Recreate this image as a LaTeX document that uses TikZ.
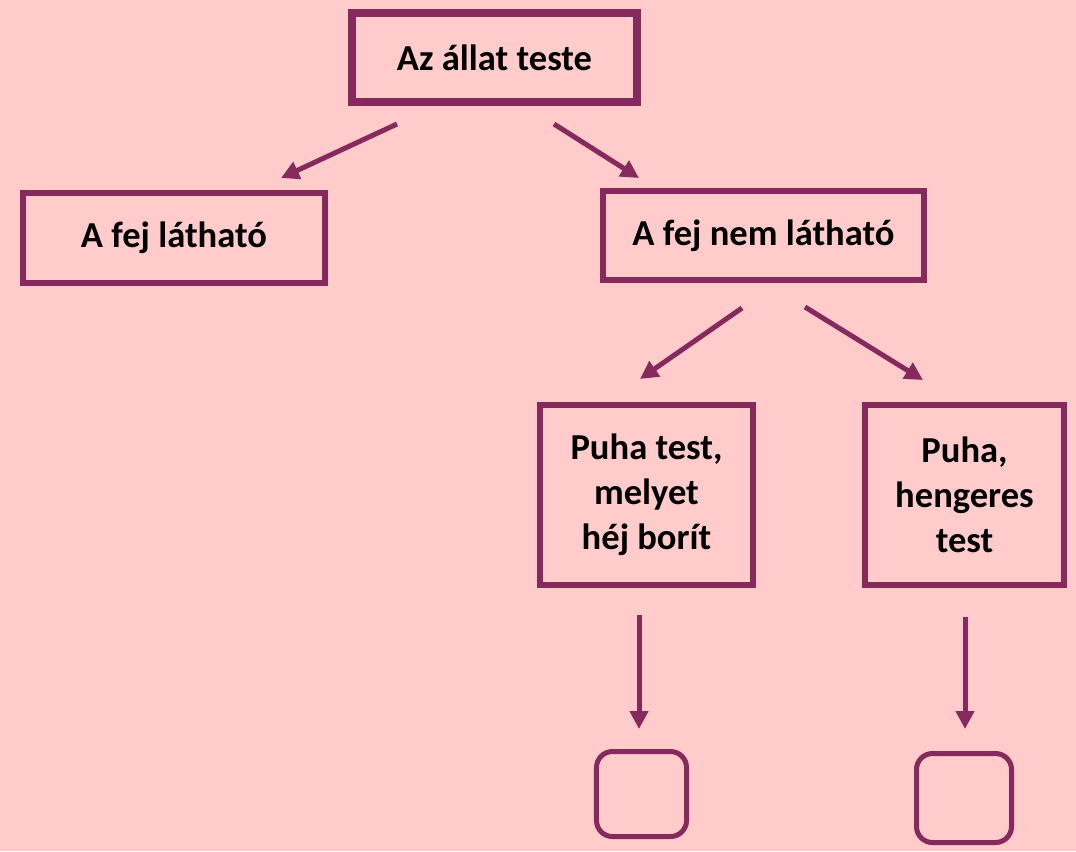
\documentclass[tikz,border=0pt]{standalone}
\usepackage{fontspec}
\setmainfont{Carlito}
\usepackage{tikz}
\usetikzlibrary{arrows.meta}
\definecolor{lila}{HTML}{862A5E}
\definecolor{rozsaszin}{HTML}{FFCBCB}

\begin{document}
\begin{tikzpicture}[x=0.025cm, y=-0.025cm,
		doboz/.style={draw=lila, rectangle, align=center, inner sep=0pt, font=\fontsize{26}{32}\selectfont\bfseries},
		ures/.style={draw=lila, line width=0.125cm, rounded corners=0.4cm, inner sep=0pt},
		nyil/.style={draw=lila, line width=0.125cm, -{Triangle[length=0.45cm, width=0.45cm]}}]
				\fill[rozsaszin] (0,0) rectangle (1076,851);
				\useasboundingbox (0,0) rectangle (1076,851);
				% dobozok
				\node[doboz, line width=0.2cm, minimum width=7.125cm, minimum height=2.225cm] (test) at (494.5,57.5) {Az állat teste};
				\node[doboz, line width=0.15cm, minimum width=7.55cm, minimum height=2.25cm] (lathato) at (174,238) {A fej látható};
				\node[doboz, line width=0.15cm, minimum width=8.025cm, minimum height=2.225cm] (nemlathato) at (763.5,235.5) {A fej nem látható};
				\node[doboz, line width=0.15cm, minimum width=5.325cm, minimum height=4.5cm] (hej) at (646.5,495) {Puha test,\\melyet\\héj borít};
				\node[doboz, line width=0.15cm, minimum width=4.975cm, minimum height=4.5cm] (henger) at (964.5,495) {Puha,\\hengeres\\test};
				\node[ures, minimum width=2.25cm, minimum height=2.125cm] (hejures) at (641.5,794) {};
				\node[ures, minimum width=2.375cm, minimum height=2.225cm] (hengerures) at (964,798) {};
				% nyilak
				\coordinate (a1) at (397,124); \coordinate (a2) at (281,178);
				\coordinate (b1) at (554,124); \coordinate (b2) at (639,178);
				\coordinate (c1) at (742,308); \coordinate (c2) at (640,379);
				\coordinate (d1) at (805,307); \coordinate (d2) at (923,380);
				\coordinate (e1) at (639,615); \coordinate (e2) at (639,729);
				\coordinate (f1) at (965,617); \coordinate (f2) at (965,729);
				\foreach \i in {a,b,c,d,e,f} {
					\draw[nyil] (\i1) -- (\i2);
				}
			\end{tikzpicture}
\end{document}
